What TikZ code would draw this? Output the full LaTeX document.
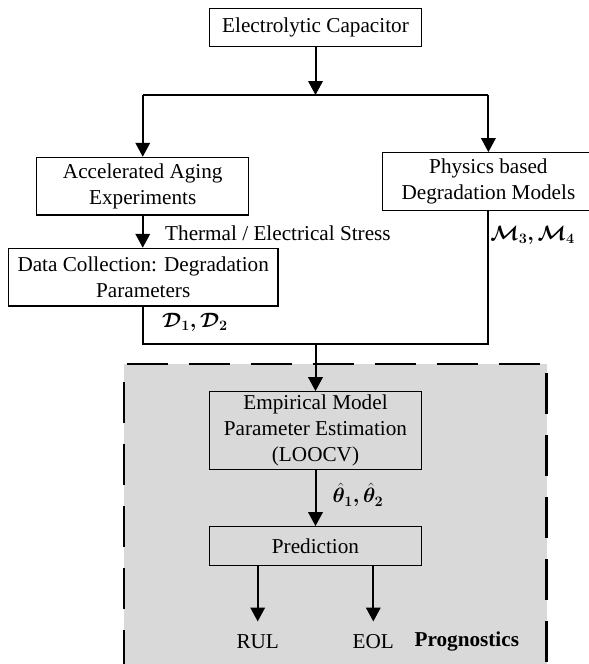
\documentclass[tikz,border=0pt]{standalone}
\usepackage{fontspec}
\setmainfont{Liberation Serif}
\usepackage{amsmath, amssymb, bm}
\usetikzlibrary{arrows.meta}
\definecolor{bggray}{RGB}{217,217,217}

\begin{document}
\begin{tikzpicture}[x=1pt, y=-1pt]
        % ================= styles =================
        \tikzset{
            % boxes: thin black frame, centred text
            blk/.style={draw=black, line width=1.2pt, align=center, inner sep=0pt,
                        font=\fontsize{21.2}{26}\selectfont},
            % plain labels
            lbl/.style={inner sep=0pt, font=\fontsize{21.2}{26}\selectfont},
            % connectors
            ln/.style={line width=2pt},
            arr/.style={line width=2pt, -{Triangle[length=14pt, width=14.5pt]}},
            % dashed frame of the prognostics block
            frame/.style={line width=2.5pt, dash pattern=on 41pt off 21pt}
        }
        \useasboundingbox (0,0) rectangle (589,664);

        % ================= 1. prognostics background =================
        \fill[bggray] (124,364) rectangle (546.5,670);
        \draw[frame, dash phase=59.3pt] (124,364) -- (546.5,364);
        \draw[frame, dash phase=44.3pt] (124,364) -- (124,670);
        \draw[frame, dash phase=52.7pt] (546.5,364) -- (546.5,670);

        % ================= 2. boxes =================
        \node[blk, minimum width=212pt, minimum height=38.4pt] (ec) at (315.5,27.5) {Electrolytic Capacitor};
        \node[blk, minimum width=212pt, minimum height=57.7pt] (aae) at (142.75,186.2) {Accelerated Aging\\Experiments};
        \node[blk, minimum width=212pt, minimum height=58pt] (phys) at (488.4,181.7) {Physics based\\Degradation Models};
        \node[blk, minimum width=269.7pt, minimum height=57.7pt] (data) at (143.2,277.2) {Data Collection: Degradation\\Parameters};
        \node[blk, minimum width=212pt, minimum height=77.6pt] (emp) at (315.5,430.5) {Empirical Model\\Parameter Estimation\\(LOOCV)};
        \node[blk, minimum width=212pt, minimum height=39pt] (pred) at (315.5,546.2) {Prediction};

        % ================= 3. labels =================
        \node[lbl, anchor=west] (stress) at (165,233) {Thermal / Electrical Stress};
        \node[lbl] (mlab) at (532.5,235) {$\bm{\mathcal{M}_3,\mathcal{M}_4}$};
        \node[lbl, anchor=west] (dlab) at (162,322) {$\bm{\mathcal{D}_1,\mathcal{D}_2}$};
        \node[lbl, anchor=west] (tlab) at (332.5,495) {$\bm{\hat{\theta}_1,\hat{\theta}_2}$};
        \node[lbl, minimum height=40pt] (rul) at (257.7,641.7) {RUL};
        \node[lbl, minimum height=40pt] (eol) at (373.3,641.7) {EOL};
        \node[lbl, minimum height=40pt, font=\fontsize{21.2}{26}\selectfont\bfseries] (prog) at (466.8,641.7) {Prognostics};

        % ================= 4. connectors =================
        \coordinate (split) at (315.5,95);
        \coordinate (sl) at (142.75,95);
        \coordinate (sr) at (488.4,95);
        \coordinate (merge) at (315.5,344);

        \draw[arr] (ec) -- (split);
        \draw[ln] (sl) -- (sr);
        \draw[arr] (sl) -- (aae);
        \draw[arr] (sr) -- (phys);
        \draw[arr] (aae.south) -- (aae.south |- data.north);
        \draw[ln] (data.south) |- (phys.south |- merge) -- (phys.south);
        \draw[arr] (merge) -- (emp);
        \draw[arr] (emp) -- (pred);
        \draw[arr] (pred.south -| rul) -- (rul);
        \draw[arr] (pred.south -| eol) -- (eol);

    \end{tikzpicture}
\end{document}
